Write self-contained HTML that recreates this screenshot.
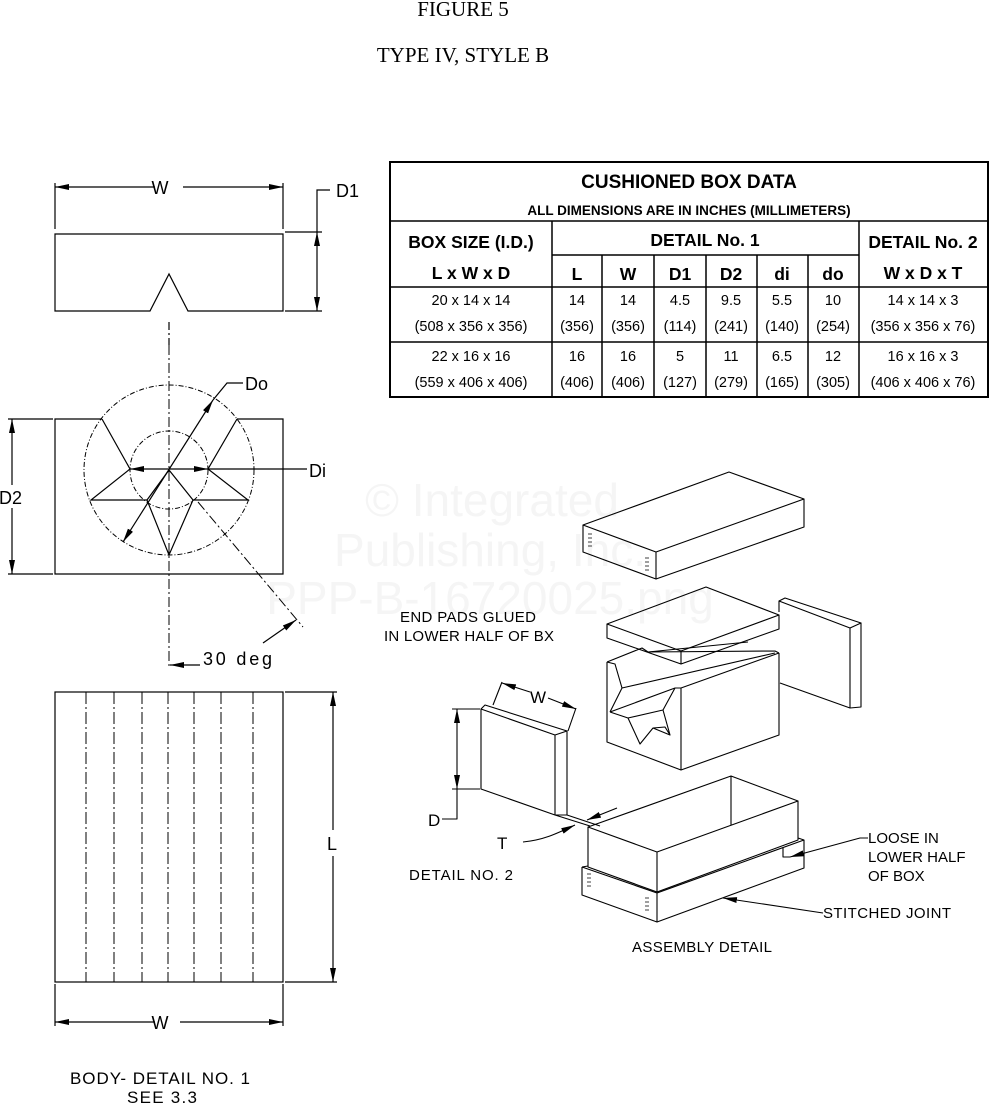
<!DOCTYPE html>
<html><head><meta charset="utf-8"><style>
html,body{margin:0;padding:0;background:#fff;}
svg{display:block;}
.t{font-family:"Liberation Serif",serif;font-size:21px;}
.a{font-family:"Liberation Sans",sans-serif;}
.n{font-family:"Liberation Sans Narrow","Liberation Sans",sans-serif;}
</style></head><body>
<svg width="990" height="1105" viewBox="0 0 990 1105" xmlns="http://www.w3.org/2000/svg">
<defs>
<marker id="ar" markerUnits="userSpaceOnUse" markerWidth="14" markerHeight="8" refX="14" refY="4" orient="auto-start-reverse" viewBox="0 0 14 8">
<path d="M0,1 L14,4 L0,7 Z" fill="#000"/></marker>
</defs>
<g fill="#f5f5f5" font-family="Liberation Sans,sans-serif" font-size="46" text-anchor="middle">
<text x="492" y="516">© Integrated</text>
<text x="490" y="566">Publishing, Inc.</text>
<text x="490" y="614">PPP-B-16720025.png</text>
</g>
<text class="t" x="463" y="16" text-anchor="middle">FIGURE 5</text>
<text class="t" x="463" y="62" text-anchor="middle">TYPE IV, STYLE B</text>

<g stroke="#000" stroke-width="1.2" fill="none">
<path d="M55,234 H283 V311 H188 L169,274 L150,311 H55 Z"/>
<path d="M55,183 V229 M283,183 V229 M285,232 H322 M285,311 H322"/>
<path d="M55,187 H155 M183,187 H283" marker-start="url(#ar)" marker-end="url(#ar)"/>
<path d="M317,232 V311" marker-start="url(#ar)" marker-end="url(#ar)"/>
<path d="M317,232 V190 H330"/>
<path d="M169,322 V345" stroke-dasharray="8,3,2,3"/>
<path d="M102,419 H55 V574 H283 V419 H237"/>
<path d="M8,419 H53 M8,574 H53"/>
<path d="M12,419 V485 M12,508 V574" marker-start="url(#ar)" marker-end="url(#ar)"/>
<circle cx="169" cy="470" r="85" stroke-dasharray="5,2,1,2" stroke-width="1"/>
<circle cx="169" cy="470" r="39" stroke-dasharray="5,2,1,2" stroke-width="1"/>
<path d="M169,345 V668" stroke-dasharray="10,3,2,3" stroke-width="1"/>
<path d="M102,419 L130,469 L91,500 H147 L169,555 L193,500 H248 L208,469 L237,419"/>
<path d="M147,500 L169,470 L193,500"/>
<path d="M169,469 H130" marker-end="url(#ar)"/>
<path d="M169,469 H208" marker-end="url(#ar)"/>
<path d="M208,469 H307"/>
<path d="M123,542 L213,400" marker-start="url(#ar)" marker-end="url(#ar)"/>
<path d="M213,400 L227,383 H243"/>
<path d="M198,502 L303,627" stroke-dasharray="10,3,2,3" stroke-width="1"/>
<path d="M263,643 L296,620" marker-end="url(#ar)"/>
<path d="M200,665 H170" marker-end="url(#ar)"/>
<rect x="55" y="692" width="228" height="290"/>
<g stroke-dasharray="12,3,2,3" stroke-width="1"><path d="M86,692V982M114,692V982M142,692V982M168,692V982M194,692V982M221,692V982M253,692V982"/></g>
<path d="M285,692 H337 M285,982 H337"/>
<path d="M333,692 V830 M333,856 V982" marker-start="url(#ar)" marker-end="url(#ar)"/>
<path d="M55,984 V1026 M283,984 V1026"/>
<path d="M55,1022 H155 M180,1022 H283" marker-start="url(#ar)" marker-end="url(#ar)"/>
<rect x="390" y="162" width="598" height="235" stroke-width="2"/>
<path d="M390,221 H988 M390,287 H988 M390,342 H988 M552,255 H859" stroke-width="1.5"/>
<path d="M552,221 V397 M859,221 V397 M602,255 V397 M654,255 V397 M706,255 V397 M757,255 V397 M808,255 V397" stroke-width="1.5"/>
</g>
<g font-family="Liberation Sans,sans-serif" font-size="18">
<text x="160" y="194" text-anchor="middle">W</text>
<text x="336" y="197">D1</text>
<text x="245" y="390">Do</text>
<text x="309" y="477">Di</text>
<text x="-1" y="504">D2</text>
<text x="203" y="665" textLength="69">30 deg</text>
<text x="327" y="850">L</text>
<text x="160" y="1029" text-anchor="middle">W</text>
</g>
<g class="a" fill="#000" style="font-size:17px">
<text x="70" y="1084" textLength="180">BODY- DETAIL NO. 1</text>
<text x="127" y="1103" textLength="70">SEE 3.3</text>
</g>
<g class="n" text-anchor="middle" fill="#000">
<text x="689" y="188" font-size="19" font-weight="bold">CUSHIONED BOX DATA</text>
<text x="689" y="215" font-size="13.5" font-weight="bold">ALL DIMENSIONS ARE IN INCHES (MILLIMETERS)</text>
<g font-size="17.5" font-weight="bold">
<text x="471" y="248">BOX SIZE (I.D.)</text>
<text x="471" y="279">L x W x D</text>
<text x="705" y="246">DETAIL No. 1</text>
<text x="923" y="248">DETAIL No. 2</text>
<text x="923" y="279">W x D x T</text>
<text x="577" y="280">L</text><text x="628" y="280">W</text><text x="680" y="280">D1</text>
<text x="731" y="280">D2</text><text x="782" y="280">di</text><text x="833" y="280">do</text>
</g>
<g font-size="14.5">
<text x="471" y="305">20 x 14 x 14</text><text x="471" y="331">(508 x 356 x 356)</text>
<text x="577" y="305">14</text><text x="577" y="331">(356)</text>
<text x="628" y="305">14</text><text x="628" y="331">(356)</text>
<text x="680" y="305">4.5</text><text x="680" y="331">(114)</text>
<text x="731" y="305">9.5</text><text x="731" y="331">(241)</text>
<text x="782" y="305">5.5</text><text x="782" y="331">(140)</text>
<text x="833" y="305">10</text><text x="833" y="331">(254)</text>
<text x="923" y="305">14 x 14 x 3</text><text x="923" y="331">(356 x 356 x 76)</text>
<text x="471" y="361">22 x 16 x 16</text><text x="471" y="387">(559 x 406 x 406)</text>
<text x="577" y="361">16</text><text x="577" y="387">(406)</text>
<text x="628" y="361">16</text><text x="628" y="387">(406)</text>
<text x="680" y="361">5</text><text x="680" y="387">(127)</text>
<text x="731" y="361">11</text><text x="731" y="387">(279)</text>
<text x="782" y="361">6.5</text><text x="782" y="387">(165)</text>
<text x="833" y="361">12</text><text x="833" y="387">(305)</text>
<text x="923" y="361">16 x 16 x 3</text><text x="923" y="387">(406 x 406 x 76)</text>
</g></g>

<g stroke="#000" stroke-width="1.1" fill="none" stroke-linejoin="round">
<path d="M583,525 L729,472 L804,499 L656,552 Z M583,525 V552 L656,579 V552 M656,579 L804,527 V499"/>
<path d="M588,534H592M588,538H592M588,542H592M588,546H592M645,558H649M645,562H649M645,566H649M645,570H649" stroke-width="0.8"/>
<path d="M607,624 L706,587 L779,615 L681,651 Z M607,624 V638 L681,664 V651 M681,664 L779,629 V615"/>
<path d="M779,601 L785,598 L861,623 L850,628 Z M850,628 L861,623 V707 L850,708 Z M850,628 V708 L780,683 M779,601 V612"/>
<path d="M607,662 V742 L681,770 L779,735 V653 M681,688 V770 M681,688 L779,653"/>
<path d="M607,662 L642,648 L648,652 L748,642 M648,652 L775,651 L779,653"/>
<path d="M607,662 L615,664 L622,688 L610,712 M622,688 L775,653 M610,712 L675,688 L681,688 M610,712 L628,718 L640,744 L653,728 L670,735 L663,710 L675,688 M628,718 L663,710 M653,728 L665,727 L670,735"/>
<path d="M481,709 L485,705 L567,731 L555,735 Z M555,735 L567,731 V815 L555,815 Z M481,709 V789 L555,815 M481,709 L555,735"/>
<path d="M452,709 H480 M452,789 H480"/>
<path d="M457,709 V789" marker-start="url(#ar)" marker-end="url(#ar)"/>
<path d="M457,789 V819 H442"/>
<path d="M493,705 L502,682 M568,731 L576,708"/>
<path d="M502,683 L530,692" marker-start="url(#ar)"/>
<path d="M548,698 L576,709" marker-end="url(#ar)"/>
<path d="M555,815 L590,826 M567,815 L600,826"/>
<path d="M617,808 L587,820" marker-end="url(#ar)"/>
<path d="M523,842 C545,840 560,832 575,825" marker-end="url(#ar)"/>
<path d="M588,827 L731,776 L798,801 L657,852 Z M588,827 V867 L657,892 V852 M657,892 L798,840 V801 M731,776 V825"/>
<path d="M582,867 L588,866 M582,867 V895 L657,922 V893 L582,867 M657,922 L804,868 V840 L798,838 M657,893 L804,840"/>
<path d="M587,874H591M587,878H591M587,882H591M587,886H591M645,898H649M645,902H649M645,906H649M645,910H649" stroke-width="0.8"/>
<path d="M783,848 V857 H790"/>
<path d="M868,838 H860 L790,857" marker-end="url(#ar)"/>
<path d="M823,913 L723,898" marker-end="url(#ar)"/>
</g>
<g class="a" fill="#000" style="font-size:15px">
<text x="400" y="622" textLength="136">END PADS GLUED</text>
<text x="384" y="641" textLength="170">IN LOWER HALF OF BX</text>
<text x="409" y="880" textLength="104">DETAIL NO. 2</text>
<text x="632" y="952" textLength="140">ASSEMBLY DETAIL</text>
<text x="868" y="843">LOOSE IN</text>
<text x="868" y="862">LOWER HALF</text>
<text x="868" y="881">OF BOX</text>
<text x="823" y="918" textLength="128">STITCHED JOINT</text>
</g>
<g font-family="Liberation Sans,sans-serif" font-size="17" fill="#000">
<text x="530" y="703">W</text>
<text x="428" y="826">D</text>
<text x="497" y="849">T</text>
</g>
</svg>
</body></html>
